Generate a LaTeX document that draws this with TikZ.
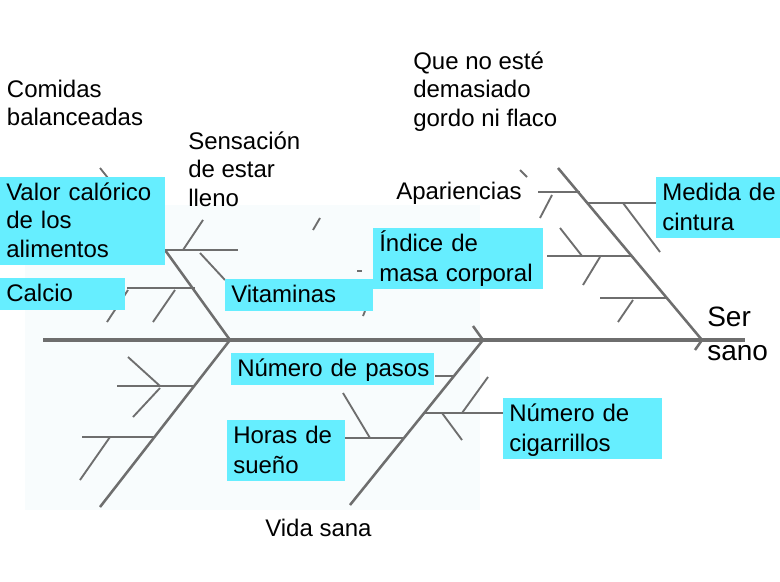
\documentclass[tikz,border=0pt]{standalone}
\usepackage{fontspec}
\setmainfont{Liberation Sans}
\definecolor{celeste}{RGB}{102,238,255}
\definecolor{hueso}{RGB}{110,110,110}
\definecolor{fondo}{RGB}{248,252,253}
\newcommand{\lstrut}{\rule[-4.9pt]{0pt}{21.3pt}}
\tikzset{
    lbl/.style={font=\fontsize{18}{21.25}\selectfont, align=left, anchor=north west,
        inner xsep=0pt, inner ysep=1.1pt,
        execute at begin node=\lstrut, execute at end node=\lstrut},
    cbox/.style={lbl, fill=celeste, inner xsep=4.5pt},
    spine/.style={hueso, line width=2.3pt},
    bone/.style={hueso, line width=1.9pt},
    tick/.style={hueso, line width=1.4pt}
}
\begin{document}
\begin{tikzpicture}[x=0.75pt, y=-0.75pt]
    \useasboundingbox (0,0) rectangle (780,581);
    \fill[white] (0,0) rectangle (780,581);
    \fill[fondo] (25,205) rectangle (480,510);

    % espina central
    \coordinate (cola) at (43,340);
    \coordinate (cabeza) at (745,340);
    \coordinate (jA) at (230,340);
    \coordinate (jB) at (483,340);
    \coordinate (jC) at (702,340);
    \draw[spine] (cola) -- (cabeza);

    % 1. huesos principales
    \draw[bone] (165,250) -- (jA) -- (100,507);
    \draw[bone] (473,326) -- (jB) -- (350,505);
    \draw[bone] (558,168) -- (jC) -- (695,350);

    % 2. huesos horizontales (x1/x2/y)
    \foreach \xa/\xb/\y in {165/238/250, 127/195/288,
                            538/580/192, 587/656/203, 547/632/256, 600/667/298,
                            117/194/386, 82/155/437,
                            435/454/376, 424/503/413, 345/404/438} {
        \draw[bone] (\xa,\y) -- (\xb,\y);
    }

    % 3. espinas pequenas
    \foreach \xa/\ya/\xb/\yb in {183/250/203/220, 200/253/225/280, 128/290/107/322,
                                 175/290/153/322, 100/168/108/178,
                                 552/195/540/218, 520/170/527/177, 623/203/660/252,
                                 560/228/582/256, 600/257/583/285, 633/300/618/322,
                                 128/357/160/386, 160/388/133/417, 110/437/80/480,
                                 462/413/488/377, 442/413/462/440, 343/393/370/438,
                                 320/218/313/230, 357/271/362/271, 365/311/363/316} {
        \draw[tick] (\xa,\ya) -- (\xb,\yb);
    }

    % 4. textos
    \node[lbl] (comidas) at (6.7,78) {Comidas\\balanceadas};
    \node[lbl] (sensacion) at (188,130) {Sensación\\de estar\\lleno};
    \node[lbl] (queno) at (413,50) {Que no esté\\demasiado\\gordo ni flaco};
    \node[lbl] (apariencias) at (396,176) {Apariencias};
    \node[lbl, font=\fontsize{21}{26}\selectfont] (sersano) at (707,305) {Ser\\sano};
    \node[lbl] (vidasana) at (265,513) {Vida sana};

    % 5. cajas celestes
    \node[cbox, text width=114.75pt] (valor) at (0,177) {Valor calórico\\de los\\alimentos};
    \node[cbox, text width=84.75pt] (calcio) at (0,278) {Calcio};
    \node[cbox, text width=102pt] (vitaminas) at (225,279) {Vitaminas};
    \node[cbox, text width=118.5pt] (imc) at (373,228) {Índice de\\masa corporal};
    \node[cbox, text width=90pt] (cintura) at (656,177) {Medida de\\cintura};
    \node[cbox, text width=143pt] (pasos) at (231,353) {\mbox{Número de pasos}};
    \node[cbox, text width=79.5pt] (sueno) at (227,420) {Horas de\\sueño};
    \node[cbox, text width=110.25pt] (cigarrillos) at (503,398) {Número de\\cigarrillos};

\end{tikzpicture}
\end{document}
